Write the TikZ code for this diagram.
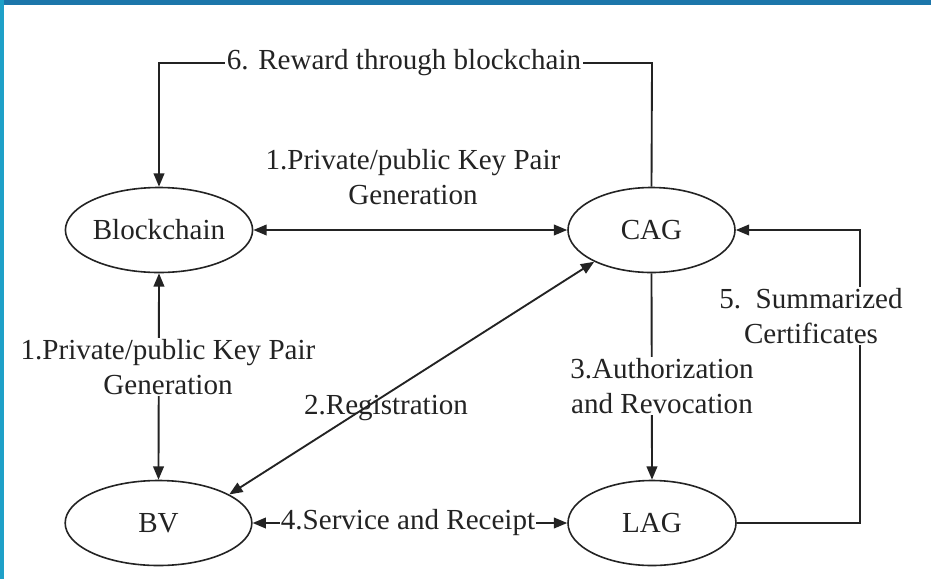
\documentclass[tikz,border=0pt]{standalone}
\usepackage{fontspec}
\setmainfont{Liberation Serif}
\usetikzlibrary{arrows.meta,shapes.geometric}
\definecolor{ink}{RGB}{35,35,35}
\definecolor{topbar}{RGB}{28,118,170}
\definecolor{leftbar}{RGB}{30,160,200}
\begin{document}
\begin{tikzpicture}[x=0.75pt,y=-0.75pt,
  every node/.style={font=\fontsize{21.8pt}{26.2pt}\selectfont,text=ink},
  ell/.style={draw=ink,line width=1.2pt,ellipse,inner sep=0pt,minimum height=63.75pt},
  conn/.style={draw=ink,line width=1.4pt},
  tip/.style={-{Triangle[length=10pt,width=8pt]}},
  dtip/.style={{Triangle[length=10pt,width=8pt]}-{Triangle[length=10pt,width=8pt]}},
  lbl/.style={align=center,inner sep=1pt},
  wlbl/.style={align=center,inner sep=1pt,fill=white}]
\useasboundingbox (0,0) rectangle (931,579);
\fill[white] (0,0) rectangle (931,579);
\fill[topbar] (0,0) rectangle (931,5);
\fill[leftbar] (0,0) rectangle (4,579);

\node[ell,minimum width=139.5pt] (blk) at (159,230) {Blockchain};
\node[ell,minimum width=125.25pt] (cag) at (651.5,230) {CAG};
\node[ell,minimum width=140pt] (bv) at (158.5,523) {BV};
\node[ell,minimum width=126pt] (lag) at (652,523) {LAG};

\coordinate (r6r) at (652,63);
\coordinate (r6l) at (159,63);
\coordinate (s5b) at (860,523);
\coordinate (s5t) at (860,230);

% 6. reward
\draw[conn,tip] (cag.north) -- (r6r) -- (r6l) -- (blk.north);
\node[wlbl] (l6) at (404,63) {6. Reward through blockchain};

% 1. key pair (horizontal)
\draw[conn,dtip] (blk.east) -- (cag.west);
\node[lbl] (l1a) at (413,177) {1.Private/public Key Pair\\Generation};

% 1. key pair (vertical)
\draw[conn,dtip] (blk.south) -- (bv.north);
\node[wlbl] (l1b) at (168,367) {1.Private/public Key Pair\\Generation};

% 2. registration
\draw[conn,dtip] (bv.22) -- (cag.209);
\node[lbl] (l2) at (386,408) {2.Registration};

% 3. authorization
\draw[conn,tip] (cag.south) -- (lag.north);
\node[wlbl] (l3) at (662,386) {3.Authorization\\and Revocation};

% 4. service
\draw[conn,dtip] (bv.east) -- (lag.west);
\node[wlbl] (l4) at (408,522) {4.Service and Receipt};

% 5. summarized
\draw[conn,tip] (lag.east) -- (s5b) -- (s5t) -- (cag.east);
\node[wlbl] (l5) at (811,316) {5.\ \ Summarized\\Certificates};
\end{tikzpicture}
\end{document}
